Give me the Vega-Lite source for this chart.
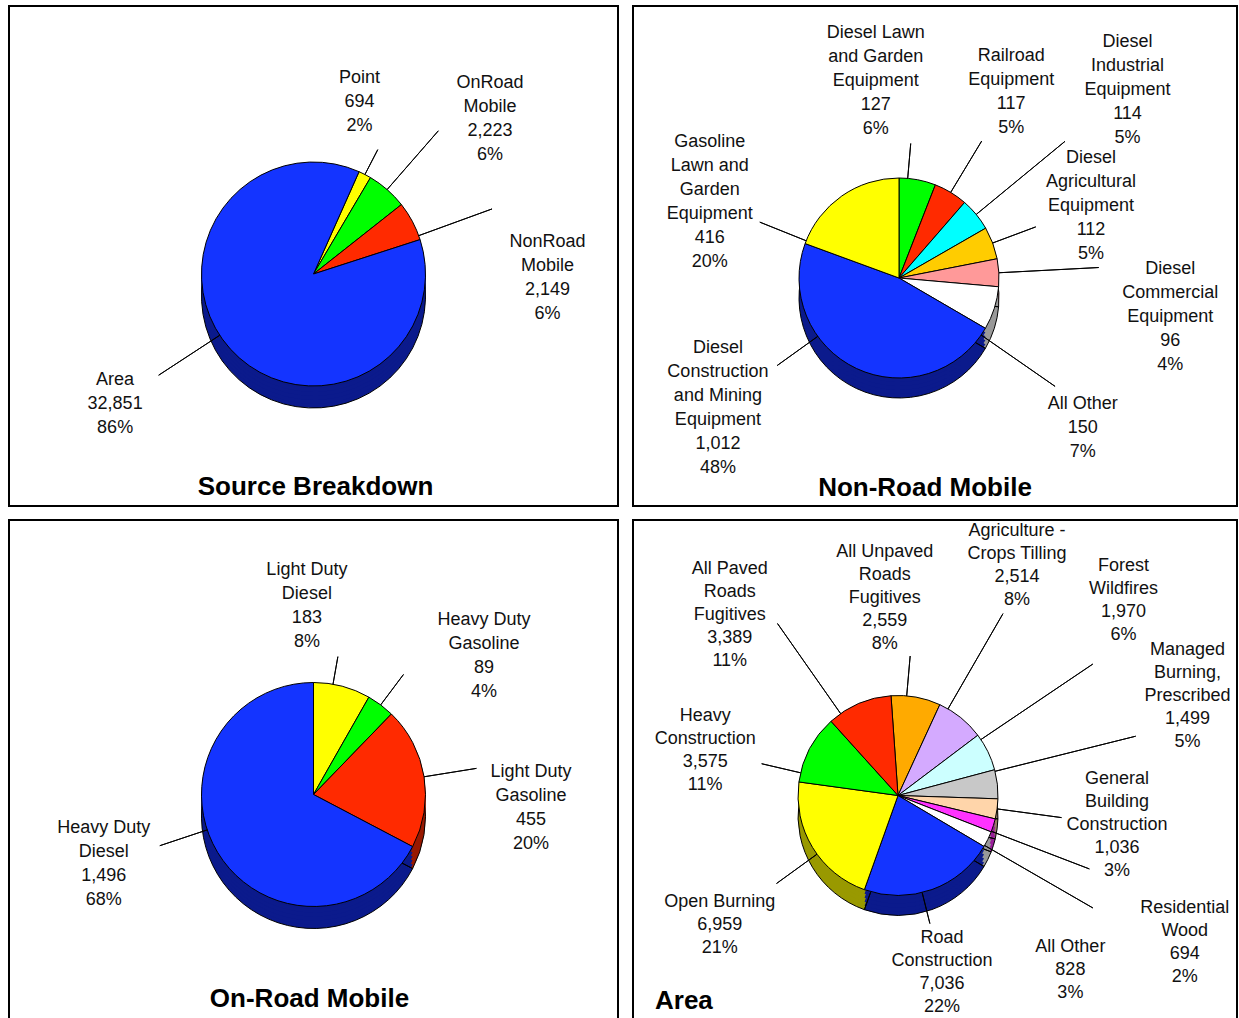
{
  "$schema": "https://vega.github.io/schema/vega-lite/v6.json",
  "padding": {"left": 8, "top": 5, "right": 0, "bottom": 0},
  "bounds": "flush",
  "columns": 2,
  "spacing": {"row": 14, "column": 15},
  "resolve": {"scale": {"color": "independent", "fill": "independent", "theta": "independent"}},
  "config": {
    "view": {"stroke": "#000", "strokeWidth": 2},
    "text": {"font": "Liberation Sans", "fontSize": 18, "lineHeight": 24, "lineBreak": "\n", "color": "#111", "align": "center", "baseline": "middle"},
    "title": {"font": "Liberation Sans", "fontSize": 26, "fontWeight": "bold", "color": "#000"}
  },
  "concat": [
    {
      "width": 609, "height": 500,
      "title": {"text": "Source Breakdown", "orient": "bottom", "anchor": "middle", "offset": -33, "dx": 2, "frame": "group"},
      "data": {"values": [
        {"name": "Point", "value": 694, "label": "Point\n694\n2%"},
        {"name": "OnRoad Mobile", "value": 2223, "label": "OnRoad\nMobile\n2,223\n6%"},
        {"name": "NonRoad Mobile", "value": 2149, "label": "NonRoad\nMobile\n2,149\n6%"},
        {"name": "Area", "value": 32851, "label": "Area\n32,851\n86%"}
      ]},
      "transform": [
        {"window": [{"op": "row_number", "as": "slice"}]},
        {"stack": "value", "groupby": [], "sort": [{"field": "slice", "order": "ascending"}], "as": ["v0", "v1"]}
      ],
      "encoding": {
        "theta": {"field": "v0", "type": "quantitative", "stack": null, "scale": {"domain": [0, 37917], "range": [0.419, 6.702]}}
      },
      "layer": [
        {"data": {"values": [{"frame": "panel"}]}, "mark": {"type": "rect", "filled": false, "stroke": "#000", "strokeWidth": 2}},
        {
          "encoding": {
            "theta2": {"field": "v1"},
            "fill": {"field": "name", "type": "nominal", "legend": null, "scale": {"domain": ["Point", "OnRoad Mobile", "NonRoad Mobile", "Area"], "range": ["#999900", "#009900", "#991900", "#0b1a8c"]}}
          },
          "layer": [
            {"mark": {"type": "arc", "outerRadius": 112, "yOffset": 40}},
            {"mark": {"type": "arc", "outerRadius": 112, "yOffset": 36}},
            {"mark": {"type": "arc", "outerRadius": 112, "yOffset": 32}},
            {"mark": {"type": "arc", "outerRadius": 112, "yOffset": 28}},
            {"mark": {"type": "arc", "outerRadius": 112, "yOffset": 24}},
            {"mark": {"type": "arc", "outerRadius": 112, "yOffset": 20}}
          ]
        },
        {"mark": {"type": "arc", "outerRadius": 112, "yOffset": 40, "filled": false, "stroke": "#000", "strokeWidth": 1},
         "encoding": {"theta2": {"field": "v1"}}},
        {"mark": {"type": "arc", "outerRadius": 112, "yOffset": 18, "stroke": "#000", "strokeWidth": 1},
         "encoding": {
           "theta2": {"field": "v1"},
           "color": {"field": "name", "type": "nominal", "legend": null, "scale": {"domain": ["Point", "OnRoad Mobile", "NonRoad Mobile", "Area"], "range": ["#ffff00", "#00ff00", "#ff2a00", "#1434ff"]}}
         }},
        {"transform": [{"filter": "datum.name == 'Point'"}],
         "mark": {"type": "arc", "innerRadius": 112, "outerRadius": 140, "thetaOffset": 0.058, "theta2Offset": 0.058, "filled": false, "stroke": "#000", "strokeWidth": 1, "yOffset": 18},
         "encoding": {"theta2": {"field": "v0"}}},
        {"transform": [{"filter": "datum.name == 'OnRoad Mobile'"}],
         "mark": {"type": "arc", "innerRadius": 112, "outerRadius": 190, "thetaOffset": 0.183, "theta2Offset": 0.183, "filled": false, "stroke": "#000", "strokeWidth": 1, "yOffset": 18},
         "encoding": {"theta2": {"field": "v0"}}},
        {"transform": [{"filter": "datum.name == 'NonRoad Mobile'"}],
         "mark": {"type": "arc", "innerRadius": 112, "outerRadius": 190, "thetaOffset": 0.319, "theta2Offset": 0.319, "filled": false, "stroke": "#000", "strokeWidth": 1, "yOffset": 18},
         "encoding": {"theta2": {"field": "v0"}}},
        {"transform": [{"filter": "datum.name == 'Area'"}],
         "mark": {"type": "arc", "innerRadius": 112, "outerRadius": 185, "thetaOffset": 2.875, "theta2Offset": 2.875, "filled": false, "stroke": "#000", "strokeWidth": 1, "yOffset": 18},
         "encoding": {"theta2": {"field": "v0"}}},
        {"transform": [{"filter": "datum.name == 'Point'"}],
         "mark": {"type": "text", "radius": 178, "thetaOffset": -0.157, "yOffset": 18, "dy": -24},
         "encoding": {"text": {"field": "label", "type": "nominal"}}},
        {"transform": [{"filter": "datum.name == 'OnRoad Mobile'"}],
         "mark": {"type": "text", "radius": 235, "thetaOffset": 0.316, "yOffset": 18, "dy": -36},
         "encoding": {"text": {"field": "label", "type": "nominal"}}},
        {"transform": [{"filter": "datum.name == 'NonRoad Mobile'"}],
         "mark": {"type": "text", "radius": 234, "thetaOffset": 0.686, "yOffset": 18, "dy": -36},
         "encoding": {"text": {"field": "label", "type": "nominal"}}},
        {"transform": [{"filter": "datum.name == 'Area'"}],
         "mark": {"type": "text", "radius": 237, "thetaOffset": 2.875, "yOffset": 18, "dy": -24},
         "encoding": {"text": {"field": "label", "type": "nominal"}}}
      ]
    },
    {
      "width": 604, "height": 500,
      "title": {"text": "Non-Road Mobile", "orient": "bottom", "anchor": "middle", "offset": -32, "dx": -10, "frame": "group"},
      "data": {"values": [
        {"name": "Diesel Lawn and Garden Equipment", "value": 127, "label": "Diesel Lawn\nand Garden\nEquipment\n127\n6%"},
        {"name": "Railroad Equipment", "value": 117, "label": "Railroad\nEquipment\n117\n5%"},
        {"name": "Diesel Industrial Equipment", "value": 114, "label": "Diesel\nIndustrial\nEquipment\n114\n5%"},
        {"name": "Diesel Agricultural Equipment", "value": 112, "label": "Diesel\nAgricultural\nEquipment\n112\n5%"},
        {"name": "Diesel Commercial Equipment", "value": 96, "label": "Diesel\nCommercial\nEquipment\n96\n4%"},
        {"name": "All Other", "value": 150, "label": "All Other\n150\n7%"},
        {"name": "Diesel Construction and Mining Equipment", "value": 1012, "label": "Diesel\nConstruction\nand Mining\nEquipment\n1,012\n48%"},
        {"name": "Gasoline Lawn and Garden Equipment", "value": 416, "label": "Gasoline\nLawn and\nGarden\nEquipment\n416\n20%"}
      ]},
      "transform": [
        {"window": [{"op": "row_number", "as": "slice"}]},
        {"stack": "value", "groupby": [], "sort": [{"field": "slice", "order": "ascending"}], "as": ["v0", "v1"]}
      ],
      "encoding": {
        "theta": {"field": "v0", "type": "quantitative", "stack": null, "scale": {"domain": [0, 2144], "range": [0, 6.2832]}}
      },
      "layer": [
        {"data": {"values": [{"frame": "panel"}]}, "mark": {"type": "rect", "filled": false, "stroke": "#000", "strokeWidth": 2}},
        {
          "encoding": {
            "theta2": {"field": "v1"},
            "fill": {"field": "name", "type": "nominal", "legend": null, "scale": {
              "domain": ["Diesel Lawn and Garden Equipment", "Railroad Equipment", "Diesel Industrial Equipment", "Diesel Agricultural Equipment", "Diesel Commercial Equipment", "All Other", "Diesel Construction and Mining Equipment", "Gasoline Lawn and Garden Equipment"],
              "range": ["#009900", "#991900", "#009999", "#997a00", "#995c5c", "#999999", "#0b1a8c", "#999900"]}}
          },
          "layer": [
            {"mark": {"type": "arc", "outerRadius": 100, "xOffset": -36, "yOffset": 42}},
            {"mark": {"type": "arc", "outerRadius": 100, "xOffset": -36, "yOffset": 38}},
            {"mark": {"type": "arc", "outerRadius": 100, "xOffset": -36, "yOffset": 34}},
            {"mark": {"type": "arc", "outerRadius": 100, "xOffset": -36, "yOffset": 30}},
            {"mark": {"type": "arc", "outerRadius": 100, "xOffset": -36, "yOffset": 26}}
          ]
        },
        {"mark": {"type": "arc", "outerRadius": 100, "xOffset": -36, "yOffset": 42, "filled": false, "stroke": "#000", "strokeWidth": 1},
         "encoding": {"theta2": {"field": "v1"}}},
        {"mark": {"type": "arc", "outerRadius": 100, "xOffset": -36, "yOffset": 22, "stroke": "#000", "strokeWidth": 1},
         "encoding": {
           "theta2": {"field": "v1"},
           "color": {"field": "name", "type": "nominal", "legend": null, "scale": {
             "domain": ["Diesel Lawn and Garden Equipment", "Railroad Equipment", "Diesel Industrial Equipment", "Diesel Agricultural Equipment", "Diesel Commercial Equipment", "All Other", "Diesel Construction and Mining Equipment", "Gasoline Lawn and Garden Equipment"],
             "range": ["#00ff00", "#ff2a00", "#00ffff", "#ffcc00", "#ff9999", "#ffffff", "#1434ff", "#ffff00"]}}
         }},
        {"transform": [{"filter": "datum.name == 'Diesel Lawn and Garden Equipment'"}],
         "mark": {"type": "arc", "innerRadius": 100, "outerRadius": 135, "thetaOffset": 0.087, "theta2Offset": 0.087, "filled": false, "stroke": "#000", "strokeWidth": 1, "xOffset": -36, "yOffset": 22},
         "encoding": {"theta2": {"field": "v0"}}},
        {"transform": [{"filter": "datum.name == 'Railroad Equipment'"}],
         "mark": {"type": "arc", "innerRadius": 100, "outerRadius": 160, "thetaOffset": 0.171, "theta2Offset": 0.171, "filled": false, "stroke": "#000", "strokeWidth": 1, "xOffset": -36, "yOffset": 22},
         "encoding": {"theta2": {"field": "v0"}}},
        {"transform": [{"filter": "datum.name == 'Diesel Industrial Equipment'"}],
         "mark": {"type": "arc", "innerRadius": 100, "outerRadius": 215, "thetaOffset": 0.167, "theta2Offset": 0.167, "filled": false, "stroke": "#000", "strokeWidth": 1, "xOffset": -36, "yOffset": 22},
         "encoding": {"theta2": {"field": "v0"}}},
        {"transform": [{"filter": "datum.name == 'Diesel Agricultural Equipment'"}],
         "mark": {"type": "arc", "innerRadius": 100, "outerRadius": 146, "thetaOffset": 0.164, "theta2Offset": 0.164, "filled": false, "stroke": "#000", "strokeWidth": 1, "xOffset": -36, "yOffset": 22},
         "encoding": {"theta2": {"field": "v0"}}},
        {"transform": [{"filter": "datum.name == 'Diesel Commercial Equipment'"}],
         "mark": {"type": "arc", "innerRadius": 100, "outerRadius": 200, "thetaOffset": 0.141, "theta2Offset": 0.141, "filled": false, "stroke": "#000", "strokeWidth": 1, "xOffset": -36, "yOffset": 22},
         "encoding": {"theta2": {"field": "v0"}}},
        {"transform": [{"filter": "datum.name == 'All Other'"}],
         "mark": {"type": "arc", "innerRadius": 100, "outerRadius": 190, "thetaOffset": 0.519, "theta2Offset": 0.519, "filled": false, "stroke": "#000", "strokeWidth": 1, "xOffset": -36, "yOffset": 22},
         "encoding": {"theta2": {"field": "v0"}}},
        {"transform": [{"filter": "datum.name == 'Diesel Construction and Mining Equipment'"}],
         "mark": {"type": "arc", "innerRadius": 100, "outerRadius": 150, "thetaOffset": 1.991, "theta2Offset": 1.991, "filled": false, "stroke": "#000", "strokeWidth": 1, "xOffset": -36, "yOffset": 22},
         "encoding": {"theta2": {"field": "v0"}}},
        {"transform": [{"filter": "datum.name == 'Gasoline Lawn and Garden Equipment'"}],
         "mark": {"type": "arc", "innerRadius": 100, "outerRadius": 150, "thetaOffset": 0.03, "theta2Offset": 0.03, "filled": false, "stroke": "#000", "strokeWidth": 1, "xOffset": -36, "yOffset": 22},
         "encoding": {"theta2": {"field": "v0"}}},
        {"transform": [{"filter": "datum.name == 'Diesel Lawn and Garden Equipment'"}],
         "mark": {"type": "text", "radius": 198, "thetaOffset": -0.118, "xOffset": -36, "yOffset": 22, "dy": -48},
         "encoding": {"text": {"field": "label", "type": "nominal"}}},
        {"transform": [{"filter": "datum.name == 'Railroad Equipment'"}],
         "mark": {"type": "text", "radius": 217, "thetaOffset": 0.171, "xOffset": -36, "yOffset": 22, "dy": -36},
         "encoding": {"text": {"field": "label", "type": "nominal"}}},
        {"transform": [{"filter": "datum.name == 'Diesel Industrial Equipment'"}],
         "mark": {"type": "text", "radius": 296, "thetaOffset": 0.167, "xOffset": -36, "yOffset": 22, "dy": -48},
         "encoding": {"text": {"field": "label", "type": "nominal"}}},
        {"transform": [{"filter": "datum.name == 'Diesel Agricultural Equipment'"}],
         "mark": {"type": "text", "radius": 205, "thetaOffset": 0.164, "xOffset": -36, "yOffset": 22, "dy": -48},
         "encoding": {"text": {"field": "label", "type": "nominal"}}},
        {"transform": [{"filter": "datum.name == 'Diesel Commercial Equipment'"}],
         "mark": {"type": "text", "radius": 274, "thetaOffset": 0.336, "xOffset": -36, "yOffset": 22, "dy": -48},
         "encoding": {"text": {"field": "label", "type": "nominal"}}},
        {"transform": [{"filter": "datum.name == 'All Other'"}],
         "mark": {"type": "text", "radius": 237, "thetaOffset": 0.596, "xOffset": -36, "yOffset": 22, "dy": -24},
         "encoding": {"text": {"field": "label", "type": "nominal"}}},
        {"transform": [{"filter": "datum.name == 'Diesel Construction and Mining Equipment'"}],
         "mark": {"type": "text", "radius": 223, "thetaOffset": 1.991, "xOffset": -36, "yOffset": 22, "dy": -60},
         "encoding": {"text": {"field": "label", "type": "nominal"}}},
        {"transform": [{"filter": "datum.name == 'Gasoline Lawn and Garden Equipment'"}],
         "mark": {"type": "text", "radius": 204, "thetaOffset": 0.03, "xOffset": -36, "yOffset": 22, "dy": -60},
         "encoding": {"text": {"field": "label", "type": "nominal"}}}
      ]
    },
    {
      "width": 609, "height": 499,
      "title": {"text": "On-Road Mobile", "orient": "bottom", "anchor": "middle", "offset": -34, "dx": -4, "frame": "group"},
      "data": {"values": [
        {"name": "Light Duty Diesel", "value": 183, "label": "Light Duty\nDiesel\n183\n8%"},
        {"name": "Heavy Duty Gasoline", "value": 89, "label": "Heavy Duty\nGasoline\n89\n4%"},
        {"name": "Light Duty Gasoline", "value": 455, "label": "Light Duty\nGasoline\n455\n20%"},
        {"name": "Heavy Duty Diesel", "value": 1496, "label": "Heavy Duty\nDiesel\n1,496\n68%"}
      ]},
      "transform": [
        {"window": [{"op": "row_number", "as": "slice"}]},
        {"stack": "value", "groupby": [], "sort": [{"field": "slice", "order": "ascending"}], "as": ["v0", "v1"]}
      ],
      "encoding": {
        "theta": {"field": "v0", "type": "quantitative", "stack": null, "scale": {"domain": [0, 2223], "range": [0, 6.2832]}}
      },
      "layer": [
        {"data": {"values": [{"frame": "panel"}]}, "mark": {"type": "rect", "filled": false, "stroke": "#000", "strokeWidth": 2}},
        {
          "encoding": {
            "theta2": {"field": "v1"},
            "fill": {"field": "name", "type": "nominal", "legend": null, "scale": {"domain": ["Light Duty Diesel", "Heavy Duty Gasoline", "Light Duty Gasoline", "Heavy Duty Diesel"], "range": ["#999900", "#009900", "#991900", "#0b1a8c"]}}
          },
          "layer": [
            {"mark": {"type": "arc", "outerRadius": 112, "yOffset": 47}},
            {"mark": {"type": "arc", "outerRadius": 112, "yOffset": 43}},
            {"mark": {"type": "arc", "outerRadius": 112, "yOffset": 39}},
            {"mark": {"type": "arc", "outerRadius": 112, "yOffset": 35}},
            {"mark": {"type": "arc", "outerRadius": 112, "yOffset": 31}},
            {"mark": {"type": "arc", "outerRadius": 112, "yOffset": 27}}
          ]
        },
        {"mark": {"type": "arc", "outerRadius": 112, "yOffset": 47, "filled": false, "stroke": "#000", "strokeWidth": 1},
         "encoding": {"theta2": {"field": "v1"}}},
        {"mark": {"type": "arc", "outerRadius": 112, "yOffset": 25, "stroke": "#000", "strokeWidth": 1},
         "encoding": {
           "theta2": {"field": "v1"},
           "color": {"field": "name", "type": "nominal", "legend": null, "scale": {"domain": ["Light Duty Diesel", "Heavy Duty Gasoline", "Light Duty Gasoline", "Heavy Duty Diesel"], "range": ["#ffff00", "#00ff00", "#ff2a00", "#1434ff"]}}
         }},
        {"transform": [{"filter": "datum.name == 'Light Duty Diesel'"}],
         "mark": {"type": "arc", "innerRadius": 112, "outerRadius": 140, "thetaOffset": 0.175, "theta2Offset": 0.175, "filled": false, "stroke": "#000", "strokeWidth": 1, "yOffset": 25},
         "encoding": {"theta2": {"field": "v0"}}},
        {"transform": [{"filter": "datum.name == 'Heavy Duty Gasoline'"}],
         "mark": {"type": "arc", "innerRadius": 112, "outerRadius": 150, "thetaOffset": 0.126, "theta2Offset": 0.126, "filled": false, "stroke": "#000", "strokeWidth": 1, "yOffset": 25},
         "encoding": {"theta2": {"field": "v0"}}},
        {"transform": [{"filter": "datum.name == 'Light Duty Gasoline'"}],
         "mark": {"type": "arc", "innerRadius": 112, "outerRadius": 165, "thetaOffset": 0.643, "theta2Offset": 0.643, "filled": false, "stroke": "#000", "strokeWidth": 1, "yOffset": 25},
         "encoding": {"theta2": {"field": "v0"}}},
        {"transform": [{"filter": "datum.name == 'Heavy Duty Diesel'"}],
         "mark": {"type": "arc", "innerRadius": 112, "outerRadius": 162, "thetaOffset": 2.336, "theta2Offset": 2.336, "filled": false, "stroke": "#000", "strokeWidth": 1, "yOffset": 25},
         "encoding": {"theta2": {"field": "v0"}}},
        {"transform": [{"filter": "datum.name == 'Light Duty Diesel'"}],
         "mark": {"type": "text", "radius": 189, "thetaOffset": -0.035, "yOffset": 25, "dy": -36},
         "encoding": {"text": {"field": "label", "type": "nominal"}}},
        {"transform": [{"filter": "datum.name == 'Heavy Duty Gasoline'"}],
         "mark": {"type": "text", "radius": 220, "thetaOffset": 0.37, "yOffset": 25, "dy": -36},
         "encoding": {"text": {"field": "label", "type": "nominal"}}},
        {"transform": [{"filter": "datum.name == 'Light Duty Gasoline'"}],
         "mark": {"type": "text", "radius": 218, "thetaOffset": 0.865, "yOffset": 25, "dy": -36},
         "encoding": {"text": {"field": "label", "type": "nominal"}}},
        {"transform": [{"filter": "datum.name == 'Heavy Duty Diesel'"}],
         "mark": {"type": "text", "radius": 221, "thetaOffset": 2.336, "yOffset": 25, "dy": -36},
         "encoding": {"text": {"field": "label", "type": "nominal"}}}
      ]
    },
    {
      "width": 604, "height": 499,
      "title": {"text": "Area", "orient": "bottom", "anchor": "start", "offset": -32, "dx": 22, "frame": "group"},
      "data": {"values": [
        {"name": "All Unpaved Roads Fugitives", "value": 2559, "label": "All Unpaved\nRoads\nFugitives\n2,559\n8%"},
        {"name": "Agriculture - Crops Tilling", "value": 2514, "label": "Agriculture -\nCrops Tilling\n2,514\n8%"},
        {"name": "Forest Wildfires", "value": 1970, "label": "Forest\nWildfires\n1,970\n6%"},
        {"name": "Managed Burning, Prescribed", "value": 1499, "label": "Managed\nBurning,\nPrescribed\n1,499\n5%"},
        {"name": "General Building Construction", "value": 1036, "label": "General\nBuilding\nConstruction\n1,036\n3%"},
        {"name": "Residential Wood", "value": 694, "label": "Residential\nWood\n694\n2%"},
        {"name": "All Other", "value": 828, "label": "All Other\n828\n3%"},
        {"name": "Road Construction", "value": 7036, "label": "Road\nConstruction\n7,036\n22%"},
        {"name": "Open Burning", "value": 6959, "label": "Open Burning\n6,959\n21%"},
        {"name": "Heavy Construction", "value": 3575, "label": "Heavy\nConstruction\n3,575\n11%"},
        {"name": "All Paved Roads Fugitives", "value": 3389, "label": "All Paved\nRoads\nFugitives\n3,389\n11%"}
      ]},
      "transform": [
        {"window": [{"op": "row_number", "as": "slice"}]},
        {"stack": "value", "groupby": [], "sort": [{"field": "slice", "order": "ascending"}], "as": ["v0", "v1"]}
      ],
      "encoding": {
        "theta": {"field": "v0", "type": "quantitative", "stack": null, "scale": {"domain": [0, 32059], "range": [-0.07, 6.2132]}}
      },
      "layer": [
        {"data": {"values": [{"frame": "panel"}]}, "mark": {"type": "rect", "filled": false, "stroke": "#000", "strokeWidth": 2}},
        {
          "encoding": {
            "theta2": {"field": "v1"},
            "fill": {"field": "name", "type": "nominal", "legend": null, "scale": {
              "domain": ["All Unpaved Roads Fugitives", "Agriculture - Crops Tilling", "Forest Wildfires", "Managed Burning, Prescribed", "General Building Construction", "Residential Wood", "All Other", "Road Construction", "Open Burning", "Heavy Construction", "All Paved Roads Fugitives"],
              "range": ["#996600", "#7f6699", "#7a9999", "#787878", "#997f66", "#991f99", "#999999", "#0b1a8c", "#999900", "#009900", "#991900"]}}
          },
          "layer": [
            {"mark": {"type": "arc", "outerRadius": 100, "xOffset": -37, "yOffset": 46}},
            {"mark": {"type": "arc", "outerRadius": 100, "xOffset": -37, "yOffset": 42}},
            {"mark": {"type": "arc", "outerRadius": 100, "xOffset": -37, "yOffset": 38}},
            {"mark": {"type": "arc", "outerRadius": 100, "xOffset": -37, "yOffset": 34}},
            {"mark": {"type": "arc", "outerRadius": 100, "xOffset": -37, "yOffset": 30}}
          ]
        },
        {"mark": {"type": "arc", "outerRadius": 100, "xOffset": -37, "yOffset": 46, "filled": false, "stroke": "#000", "strokeWidth": 1},
         "encoding": {"theta2": {"field": "v1"}}},
        {"mark": {"type": "arc", "outerRadius": 100, "xOffset": -37, "yOffset": 26, "stroke": "#000", "strokeWidth": 1},
         "encoding": {
           "theta2": {"field": "v1"},
           "color": {"field": "name", "type": "nominal", "legend": null, "scale": {
             "domain": ["All Unpaved Roads Fugitives", "Agriculture - Crops Tilling", "Forest Wildfires", "Managed Burning, Prescribed", "General Building Construction", "Residential Wood", "All Other", "Road Construction", "Open Burning", "Heavy Construction", "All Paved Roads Fugitives"],
             "range": ["#ffaa00", "#d4aaff", "#ccffff", "#c8c8c8", "#ffd5aa", "#ff33ff", "#ffffff", "#1434ff", "#ffff00", "#00ff00", "#ff2a00"]}}
         }},
        {"transform": [{"filter": "datum.name == 'All Unpaved Roads Fugitives'"}],
         "mark": {"type": "arc", "innerRadius": 100, "outerRadius": 140, "thetaOffset": 0.157, "theta2Offset": 0.157, "filled": false, "stroke": "#000", "strokeWidth": 1, "xOffset": -37, "yOffset": 26},
         "encoding": {"theta2": {"field": "v0"}}},
        {"transform": [{"filter": "datum.name == 'Agriculture - Crops Tilling'"}],
         "mark": {"type": "arc", "innerRadius": 100, "outerRadius": 210, "thetaOffset": 0.092, "theta2Offset": 0.092, "filled": false, "stroke": "#000", "strokeWidth": 1, "xOffset": -37, "yOffset": 26},
         "encoding": {"theta2": {"field": "v0"}}},
        {"transform": [{"filter": "datum.name == 'Forest Wildfires'"}],
         "mark": {"type": "arc", "innerRadius": 100, "outerRadius": 235, "thetaOffset": 0.053, "theta2Offset": 0.053, "filled": false, "stroke": "#000", "strokeWidth": 1, "xOffset": -37, "yOffset": 26},
         "encoding": {"theta2": {"field": "v0"}}},
        {"transform": [{"filter": "datum.name == 'Managed Burning, Prescribed'"}],
         "mark": {"type": "arc", "innerRadius": 100, "outerRadius": 245, "thetaOffset": 0.016, "theta2Offset": 0.016, "filled": false, "stroke": "#000", "strokeWidth": 1, "xOffset": -37, "yOffset": 26},
         "encoding": {"theta2": {"field": "v0"}}},
        {"transform": [{"filter": "datum.name == 'General Building Construction'"}],
         "mark": {"type": "arc", "innerRadius": 100, "outerRadius": 165, "thetaOffset": 0.101, "theta2Offset": 0.101, "filled": false, "stroke": "#000", "strokeWidth": 1, "xOffset": -37, "yOffset": 26},
         "encoding": {"theta2": {"field": "v0"}}},
        {"transform": [{"filter": "datum.name == 'Residential Wood'"}],
         "mark": {"type": "arc", "innerRadius": 100, "outerRadius": 205, "thetaOffset": 0.13, "theta2Offset": 0.13, "filled": false, "stroke": "#000", "strokeWidth": 1, "xOffset": -37, "yOffset": 26},
         "encoding": {"theta2": {"field": "v0"}}},
        {"transform": [{"filter": "datum.name == 'All Other'"}],
         "mark": {"type": "arc", "innerRadius": 100, "outerRadius": 225, "thetaOffset": 0.151, "theta2Offset": 0.151, "filled": false, "stroke": "#000", "strokeWidth": 1, "xOffset": -37, "yOffset": 26},
         "encoding": {"theta2": {"field": "v0"}}},
        {"transform": [{"filter": "datum.name == 'Road Construction'"}],
         "mark": {"type": "arc", "innerRadius": 100, "outerRadius": 132, "thetaOffset": 0.792, "theta2Offset": 0.792, "filled": false, "stroke": "#000", "strokeWidth": 1, "xOffset": -37, "yOffset": 26},
         "encoding": {"theta2": {"field": "v0"}}},
        {"transform": [{"filter": "datum.name == 'Open Burning'"}],
         "mark": {"type": "arc", "innerRadius": 100, "outerRadius": 150, "thetaOffset": 0.601, "theta2Offset": 0.601, "filled": false, "stroke": "#000", "strokeWidth": 1, "xOffset": -37, "yOffset": 26},
         "encoding": {"theta2": {"field": "v0"}}},
        {"transform": [{"filter": "datum.name == 'Heavy Construction'"}],
         "mark": {"type": "arc", "innerRadius": 100, "outerRadius": 140, "thetaOffset": 0.093, "theta2Offset": 0.093, "filled": false, "stroke": "#000", "strokeWidth": 1, "xOffset": -37, "yOffset": 26},
         "encoding": {"theta2": {"field": "v0"}}},
        {"transform": [{"filter": "datum.name == 'All Paved Roads Fugitives'"}],
         "mark": {"type": "arc", "innerRadius": 100, "outerRadius": 210, "thetaOffset": 0.123, "theta2Offset": 0.123, "filled": false, "stroke": "#000", "strokeWidth": 1, "xOffset": -37, "yOffset": 26},
         "encoding": {"theta2": {"field": "v0"}}},
        {"transform": [{"filter": "datum.name == 'All Unpaved Roads Fugitives'"}],
         "mark": {"type": "text", "radius": 198, "thetaOffset": 0.003, "lineHeight": 23, "xOffset": -37, "yOffset": 26, "dy": -46},
         "encoding": {"text": {"field": "label", "type": "nominal"}}},
        {"transform": [{"filter": "datum.name == 'Agriculture - Crops Tilling'"}],
         "mark": {"type": "text", "radius": 259, "thetaOffset": 0.046, "lineHeight": 23, "xOffset": -37, "yOffset": 26, "dy": -34.5},
         "encoding": {"text": {"field": "label", "type": "nominal"}}},
        {"transform": [{"filter": "datum.name == 'Forest Wildfires'"}],
         "mark": {"type": "text", "radius": 298, "thetaOffset": -0.066, "lineHeight": 23, "xOffset": -37, "yOffset": 26, "dy": -34.5},
         "encoding": {"text": {"field": "label", "type": "nominal"}}},
        {"transform": [{"filter": "datum.name == 'Managed Burning, Prescribed'"}],
         "mark": {"type": "text", "radius": 306, "thetaOffset": -0.07, "lineHeight": 23, "xOffset": -37, "yOffset": 26, "dy": -46},
         "encoding": {"text": {"field": "label", "type": "nominal"}}},
        {"transform": [{"filter": "datum.name == 'General Building Construction'"}],
         "mark": {"type": "text", "radius": 221, "thetaOffset": 0.101, "lineHeight": 23, "xOffset": -37, "yOffset": 26, "dy": -46},
         "encoding": {"text": {"field": "label", "type": "nominal"}}},
        {"transform": [{"filter": "datum.name == 'Residential Wood'"}],
         "mark": {"type": "text", "radius": 322, "thetaOffset": 0.236, "lineHeight": 23, "xOffset": -37, "yOffset": 26, "dy": -34.5},
         "encoding": {"text": {"field": "label", "type": "nominal"}}},
        {"transform": [{"filter": "datum.name == 'All Other'"}],
         "mark": {"type": "text", "radius": 245, "thetaOffset": 0.418, "lineHeight": 23, "xOffset": -37, "yOffset": 26, "dy": -23},
         "encoding": {"text": {"field": "label", "type": "nominal"}}},
        {"transform": [{"filter": "datum.name == 'Road Construction'"}],
         "mark": {"type": "text", "radius": 182, "thetaOffset": 0.792, "lineHeight": 23, "xOffset": -37, "yOffset": 26, "dy": -34.5},
         "encoding": {"text": {"field": "label", "type": "nominal"}}},
        {"transform": [{"filter": "datum.name == 'Open Burning'"}],
         "mark": {"type": "text", "radius": 220, "thetaOffset": 0.601, "lineHeight": 23, "xOffset": -37, "yOffset": 26, "dy": -23},
         "encoding": {"text": {"field": "label", "type": "nominal"}}},
        {"transform": [{"filter": "datum.name == 'Heavy Construction'"}],
         "mark": {"type": "text", "radius": 198, "thetaOffset": 0.093, "lineHeight": 23, "xOffset": -37, "yOffset": 26, "dy": -34.5},
         "encoding": {"text": {"field": "label", "type": "nominal"}}},
        {"transform": [{"filter": "datum.name == 'All Paved Roads Fugitives'"}],
         "mark": {"type": "text", "radius": 247, "thetaOffset": -0.015, "lineHeight": 23, "xOffset": -37, "yOffset": 26, "dy": -46},
         "encoding": {"text": {"field": "label", "type": "nominal"}}}
      ]
    }
  ]
}
